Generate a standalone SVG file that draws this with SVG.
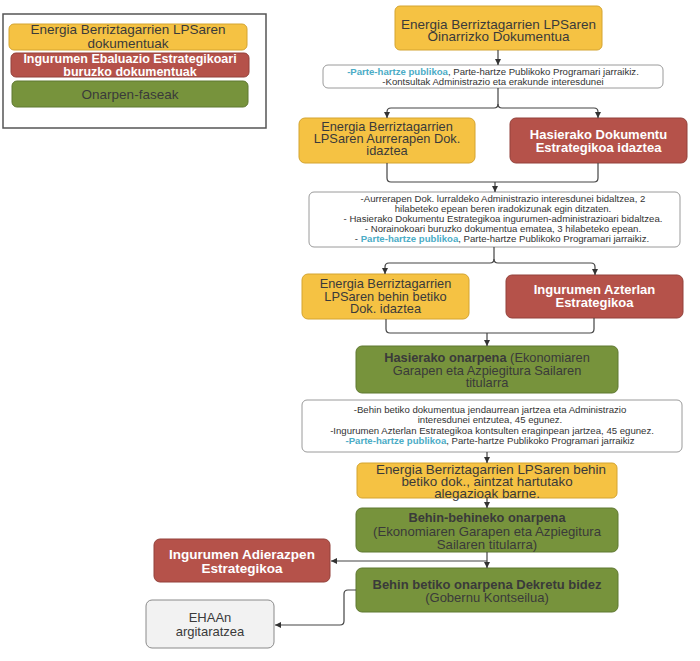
<svg xmlns="http://www.w3.org/2000/svg" width="700" height="661" viewBox="0 0 700 661">
<defs>
<marker id="ah" viewBox="0 0 10 10" refX="10" refY="5" markerWidth="6" markerHeight="6" markerUnits="userSpaceOnUse" orient="auto">
<path d="M0,0 L10,5 L0,10 z" fill="#333"/>
</marker>
<style>
text{font-family:"Liberation Sans",Arial,sans-serif;text-anchor:middle;}
.y{fill:#F5C243;stroke:#D4A430;stroke-width:1;}
.r{fill:#B5524A;stroke:#93413A;stroke-width:1;}
.g{fill:#77933C;stroke:#5F7830;stroke-width:1;}
.w{fill:#FFFFFF;stroke:#9A9A9A;stroke-width:1;}
.gr{fill:#F2F2F2;stroke:#8A8A8A;stroke-width:1;}
.dt{fill:#3A3A3A;}
.wt{fill:#FFFFFF;font-weight:bold;}
.b{font-weight:bold;}
.bl{fill:#4BACC6;font-weight:bold;}
.c{fill:none;stroke:#444;stroke-width:1.2;}
.sm{font-size:9.6px;fill:#333;}
</style>
</defs>

<g id="legend">
<rect x="3" y="14" width="263" height="114" fill="#FFFFFF" stroke="#555" stroke-width="1.5"/>
<rect class="y" x="9" y="24" width="238" height="26" rx="5"/>
<text class="dt" font-size="13.5" x="128" y="34">Energia Berriztagarrien LPSaren</text>
<text class="dt" font-size="13.5" x="128" y="47.5">dokumentuak</text>
<rect class="r" x="11" y="53" width="238" height="24" rx="5"/>
<text class="wt" font-size="12.5" x="130" y="63">Ingurumen Ebaluazio Estrategikoari</text>
<text class="wt" font-size="12.5" x="130" y="75.5">buruzko dokumentuak</text>
<rect class="g" x="12" y="81" width="236" height="26" rx="5"/>
<text class="dt" font-size="13.5" x="130" y="98.5">Onarpen-faseak</text>
</g>

<g id="n1">
<rect class="y" x="395" y="6" width="207" height="44" rx="5"/>
<text class="dt" font-size="13.5" x="498.5" y="28.5">Energia Berriztagarrien LPSaren</text>
<text class="dt" font-size="13.5" x="498.5" y="41">Oinarrizko Dokumentua</text>
</g>

<g id="t1">
<rect class="w" x="323" y="65" width="340" height="23" rx="5"/>
<text class="sm" x="493" y="75">
<tspan class="bl">-Parte-hartze publikoa</tspan>, Parte-hartze Publikoko Programari jarraikiz.</text>
<text class="sm" x="493" y="85.3">-Kontsultak Administrazio eta erakunde interesdunei</text>
</g>

<g id="n2">
<rect class="y" x="299" y="118" width="176" height="45" rx="6"/>
<text class="dt" font-size="12.8" x="387" y="131">Energia Berriztagarrien</text>
<text class="dt" font-size="12.8" x="387" y="143">LPSaren Aurrerapen Dok.</text>
<text class="dt" font-size="12.8" x="387" y="155">idaztea</text>
</g>

<g id="n3">
<rect class="r" x="510" y="118" width="177" height="45" rx="6"/>
<text class="wt" font-size="13" x="598.5" y="139">Hasierako Dokumentu</text>
<text class="wt" font-size="13" x="598.5" y="152">Estrategikoa idaztea</text>
</g>

<g id="t2">
<rect class="w" x="309" y="192" width="371" height="55" rx="5"/>
<text class="sm" x="503" y="202">-Aurrerapen Dok. lurraldeko Administrazio interesdunei bidaltzea,  2</text>
<text class="sm" x="503" y="212">hilabeteko epean beren iradokizunak egin ditzaten.</text>
<text class="sm" x="503" y="222">- Hasierako Dokumentu Estrategikoa ingurumen-administrazioari bidaltzea.</text>
<text class="sm" x="503" y="232">- Norainokoari buruzko dokumentua ematea, 3 hilabeteko epean.</text>
<text class="sm" x="502" y="242">- <tspan class="bl">Parte-hartze publikoa</tspan>, Parte-hartze Publikoko Programari jarraikiz.</text>
</g>

<g id="n4">
<rect class="y" x="302" y="274" width="167" height="45" rx="6"/>
<text class="dt" font-size="12.8" x="385.5" y="288">Energia Berriztagarrien</text>
<text class="dt" font-size="12.8" x="385.5" y="300.5">LPSaren behin betiko</text>
<text class="dt" font-size="12.8" x="385.5" y="313">Dok. idaztea</text>
</g>

<g id="n5">
<rect class="r" x="506" y="275" width="177" height="43" rx="6"/>
<text class="wt" font-size="13" x="594.5" y="294">Ingurumen Azterlan</text>
<text class="wt" font-size="13" x="594.5" y="307">Estrategikoa</text>
</g>

<g id="n6">
<rect class="g" x="356" y="346" width="262" height="47" rx="6"/>
<text class="dt" font-size="12.8" x="487" y="362"><tspan class="b">Hasierako onarpena</tspan> (Ekonomiaren</text>
<text class="dt" font-size="12.8" x="487" y="374.5">Garapen eta Azpiegitura Sailaren</text>
<text class="dt" font-size="12.8" x="487" y="387">titularra</text>
</g>

<g id="t3">
<rect class="w" x="302" y="400" width="380" height="52" rx="5"/>
<text class="sm" x="490" y="413">-Behin betiko dokumentua jendaurrean jartzea eta Administrazio</text>
<text class="sm" x="490" y="423.3">interesdunei entzutea, 45 egunez.</text>
<text class="sm" x="492" y="433.6">-Ingurumen Azterlan Estrategikoa kontsulten eraginpean jartzea, 45 egunez.</text>
<text class="sm" x="490" y="443.9"><tspan class="bl">-Parte-hartze publikoa</tspan>, Parte-hartze Publikoko Programari jarraikiz</text>
</g>

<g id="n7">
<rect class="y" x="357" y="463" width="260" height="35" rx="5"/>
<text class="dt" font-size="13.4" x="491" y="474">Energia Berriztagarrien LPSaren behin</text>
<text class="dt" font-size="13.4" x="487" y="486">betiko dok., aintzat hartutako</text>
<text class="dt" font-size="13.4" x="487" y="498">alegazioak barne.</text>
</g>

<g id="n8">
<rect class="g" x="356" y="508" width="262" height="44" rx="6"/>
<text class="dt b" font-size="12.8" x="487" y="521.5">Behin-behineko onarpena</text>
<text class="dt" font-size="13.2" x="487" y="535.5">(Ekonomiaren Garapen eta Azpiegitura</text>
<text class="dt" font-size="13.2" x="487" y="548.5">Sailaren titularra)</text>
</g>

<g id="n9">
<rect class="r" x="154" y="539" width="176" height="43" rx="6"/>
<text class="wt" font-size="13.5" x="242" y="559">Ingurumen Adierazpen</text>
<text class="wt" font-size="13.5" x="242" y="573">Estrategikoa</text>
</g>

<g id="n10">
<rect class="g" x="356" y="568" width="262" height="44" rx="6"/>
<text class="dt b" font-size="13" x="487" y="589">Behin betiko onarpena Dekretu bidez</text>
<text class="dt" font-size="13" x="487" y="602">(Gobernu Kontseilua)</text>
</g>

<g id="n11">
<rect class="gr" x="146" y="600" width="128" height="48" rx="6"/>
<text class="dt" font-size="13" x="210" y="622">EHAAn</text>
<text class="dt" font-size="13" x="210" y="636">argitaratzea</text>
</g>

<g id="connectors">
<path class="c" d="M498,50 V65" marker-end="url(#ah)"/>
<path class="c" d="M498,88 V104 Q498,108 494,108 H391 Q387,108 387,112 V118" marker-end="url(#ah)"/>
<path class="c" d="M498,104 Q498,108 502,108 H594 Q598,108 598,112 V118" marker-end="url(#ah)"/>
<path class="c" d="M387,163 V178 Q387,182 391,182 H594 Q598,182 598,178 V163"/>
<path class="c" d="M495,182 V192" marker-end="url(#ah)"/>
<path class="c" d="M494,247 V259 Q494,263 490,263 H389 Q385,263 385,267 V274" marker-end="url(#ah)"/>
<path class="c" d="M494,259 Q494,263 498,263 H591 Q595,263 595,267 V275" marker-end="url(#ah)"/>
<path class="c" d="M386,319 V329 Q386,333 390,333 H590 Q594,333 594,329 V318"/>
<path class="c" d="M487,333 V346" marker-end="url(#ah)"/>
<path class="c" d="M487,452 V463" marker-end="url(#ah)"/>
<path class="c" d="M487,498 V508" marker-end="url(#ah)"/>
<path class="c" d="M487,552 V568" marker-end="url(#ah)"/>
<path class="c" d="M487,561 H331" marker-end="url(#ah)"/>
<path class="c" d="M356,590 H348 Q344,590 344,594 V621 Q344,625 340,625 H275" marker-end="url(#ah)"/>
</g>
</svg>
